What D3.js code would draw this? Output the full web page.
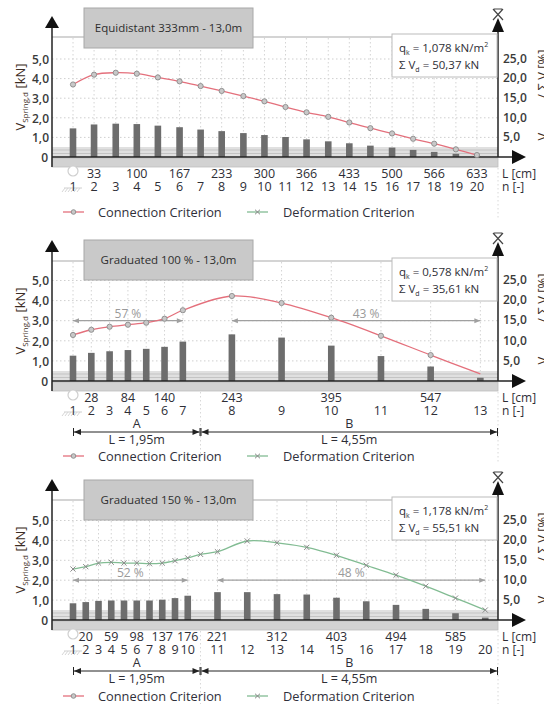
<!DOCTYPE html>
<html>
<head>
<meta charset="utf-8">
<script src="https://cdn.jsdelivr.net/npm/d3@7"></script>
<style>
body { margin: 0; background: #fff; }
text { font-family: "Open Sans", sans-serif; fill: #2e2e36; }
</style>
</head>
<body>
<div class="chart"></div>
<script>
// ---- panel 1 : equidistant 333mm
var p1Title = `Equidistant 333mm - 13,0m`;
var p1Qk = `1,078`, p1Sum = `50,37`;
var p1L = [0, 33, 67, 100, 133, 167, 200, 233, 267, 300, 333, 366, 400, 433, 466, 500, 533, 566, 600, 633];
var p1Conn = [3.70, 4.20, 4.30, 4.25, 4.06, 3.86, 3.62, 3.37, 3.11, 2.84, 2.55, 2.28, 2.05, 1.76, 1.47, 1.20, 0.93, 0.68, 0.39, 0.10];
var p1Share = [7.3, 8.3, 8.5, 8.4, 8.0, 7.6, 7.0, 6.6, 6.1, 5.6, 5.1, 4.5, 4.0, 3.5, 2.9, 2.4, 1.8, 1.3, 0.8, 0.2];
var p1TickNodes = [2, 4, 6, 8, 10, 12, 14, 16, 18, 20];
var p1TickText = [`33`, `100`, `167`, `233`, `300`, `366`, `433`, `500`, `566`, `633`];

// ---- panel 2 : graduated 100 %
var p2Title = `Graduated 100 % - 13,0m`;
var p2Qk = `0,578`, p2Sum = `35,61`;
var p2L = [0, 28, 56, 84, 112, 140, 168, 243, 319, 395, 471, 547, 623];
var p2Conn = [2.29, 2.55, 2.70, 2.80, 2.90, 3.10, 3.52, 4.23, 3.88, 3.15, 2.25, 1.29, 0.35];
var p2Share = [6.3, 7.0, 7.4, 7.7, 8.0, 8.5, 9.8, 11.6, 10.8, 8.8, 6.2, 3.6, 0.8];
var p2TickNodes = [2, 4, 6, 8, 10, 12];
var p2TickText = [`28`, `84`, `140`, `243`, `395`, `547`];
var p2SecNames = [`A`, `B`];
var p2SecBounds = [0, 195, 650];
var p2SecLen = [`L = 1,95m`, `L = 4,55m`];
var p2SecPct = [`57 %`, `43 %`];
var p2SecNodes = [[1, 7], [8, 13]];
var p2PctLevel = 3.0;

// ---- panel 3 : graduated 150 %
var p3Title = `Graduated 150 % - 13,0m`;
var p3Qk = `1,178`, p3Sum = `55,51`;
var p3L = [0, 19.5, 39, 58.5, 78, 97.5, 117, 136.5, 156, 175.5, 221, 266.5, 312, 357.5, 403, 448.5, 494, 539.5, 585, 630.5];
var p3DefL = [0, 19.5, 39, 58.5, 78, 97.5, 117, 136.5, 156, 175.5, 195, 221, 266.5, 312, 357.5, 403, 448.5, 494, 539.5, 585, 630.5];
var p3Def = [2.56, 2.68, 2.86, 2.90, 2.86, 2.86, 2.83, 2.86, 2.98, 3.12, 3.30, 3.43, 3.97, 3.88, 3.65, 3.25, 2.75, 2.25, 1.70, 1.10, 0.50];
var p3Share = [4.2, 4.5, 4.8, 4.9, 4.9, 4.9, 4.9, 5.1, 5.5, 6.1, 7.0, 7.0, 6.5, 6.4, 5.6, 4.7, 3.8, 2.8, 1.7, 0.6];
var p3TickNodes = [2, 4, 6, 8, 10, 11, 13, 15, 17, 19];
var p3TickText = [`20`, `59`, `98`, `137`, `176`, `221`, `312`, `403`, `494`, `585`];
var p3SecNames = [`A`, `B`];
var p3SecBounds = [0, 195, 650];
var p3SecLen = [`L = 1,95m`, `L = 4,55m`];
var p3SecPct = [`52 %`, `48 %`];
var p3SecNodes = [[1, 10], [11, 20]];
var p3PctLevel = 2.0;

var kNTicks = [1, 2, 3, 4, 5];
var pctTicks = [5, 10, 15, 20, 25];

var connColor = `#e4707c`;
var defColor = `#82bc93`;

var svg = d3.select(`.chart`)
    .append(`svg`)
    .attr(`width`, 544)
    .attr(`height`, 704);

var axisX0 = 52, axisX1 = 498, nodeX0 = 73;

function fmt(v) { return v.toFixed(1).replace(`.`, `,`); }

function drawPanel(p) {
    var g = svg.append(`g`);
    var y0 = p.y0;
    var xScale = d3.scaleLinear().domain([0, p.lMax]).range([nodeX0, axisX1]);
    var yScale = d3.scaleLinear().domain([0, 5]).range([y0, y0 - 5 * p.k]);
    var pScale = d3.scaleLinear().domain([0, 25]).range([y0, y0 - 5 * p.k]);

    // top border line
    g.append(`line`).attr(`x1`, axisX0).attr(`x2`, axisX1)
        .attr(`y1`, y0 - 120).attr(`y2`, y0 - 120)
        .style(`stroke`, `#d4d4d4`).style(`stroke-width`, 2);

    // grid
    g.selectAll(`.hgrid`).data(kNTicks).enter().append(`line`)
        .attr(`x1`, axisX0).attr(`x2`, axisX1)
        .attr(`y1`, d => yScale(d)).attr(`y2`, d => yScale(d))
        .style(`stroke`, `#cfcfcf`).style(`stroke-dasharray`, `1.5,2.5`);
    g.selectAll(`.vgrid`).data(p.L).enter().append(`line`)
        .attr(`x1`, d => xScale(d)).attr(`x2`, d => xScale(d))
        .attr(`y1`, y0 - 119).attr(`y2`, y0 - 10)
        .style(`stroke`, `#d4d4d4`).style(`stroke-dasharray`, `1.5,2.5`);

    // dotted lines below the axis
    var below = p.secBounds ? p.secBounds.slice(1) : [p.lMax];
    g.selectAll(`.bgrid`).data(below).enter().append(`line`)
        .attr(`x1`, d => xScale(d)).attr(`x2`, d => xScale(d))
        .attr(`y1`, y0 + 11).attr(`y2`, p.legendY + 8)
        .style(`stroke`, `#d8d8d8`).style(`stroke-dasharray`, `1.5,2.5`);

    // ground band
    g.append(`rect`).attr(`x`, axisX0).attr(`y`, y0 - 10).attr(`width`, axisX1 - axisX0).attr(`height`, 10)
        .style(`fill`, `#e0e0e0`);
    [y0 - 7, y0 - 3.5].forEach(yy => g.append(`line`).attr(`x1`, axisX0).attr(`x2`, axisX1)
        .attr(`y1`, yy).attr(`y2`, yy).style(`stroke`, `#c4c4c4`));
    g.append(`rect`).attr(`x`, axisX0).attr(`y`, y0 + 1).attr(`width`, axisX1 - axisX0).attr(`height`, 9)
        .style(`fill`, `#d2d2d2`).style(`stroke`, `#bdbdbd`).style(`stroke-width`, 0.8);

    // bars (share of sum, right scale)
    g.selectAll(`.bar`).data(p.share).enter().append(`rect`)
        .attr(`x`, (d, i) => xScale(p.L[i]) - 3.3)
        .attr(`y`, d => pScale(d))
        .attr(`width`, 6.6)
        .attr(`height`, d => y0 - pScale(d))
        .style(`fill`, `#6d6d6d`);

    // baseline
    g.append(`line`).attr(`x1`, axisX0).attr(`x2`, 514).attr(`y1`, y0).attr(`y2`, y0)
        .style(`stroke`, `#222`).style(`stroke-width`, 1.5);
    g.append(`path`).attr(`d`, `M526,${y0} L512,${y0 - 7} L512,${y0 + 7} Z`).style(`fill`, `#111`);

    // left axis
    g.append(`line`).attr(`x1`, axisX0).attr(`x2`, axisX0).attr(`y1`, y0 + 10).attr(`y2`, y0 - 130)
        .style(`stroke`, `#222`).style(`stroke-width`, 1.5);
    g.append(`path`).attr(`d`, `M${axisX0},${y0 - 141} L${axisX0 - 7},${y0 - 129} L${axisX0 + 7},${y0 - 129} Z`).style(`fill`, `#111`);

    // right axis
    g.append(`line`).attr(`x1`, axisX1).attr(`x2`, axisX1).attr(`y1`, y0).attr(`y2`, y0 - 126)
        .style(`stroke`, `#222`).style(`stroke-width`, 1.5);
    g.append(`path`).attr(`d`, `M${axisX1},${y0 - 139} L${axisX1 - 6},${y0 - 125} L${axisX1 + 6},${y0 - 125} Z`).style(`fill`, `#111`);
    g.append(`path`)
        .attr(`d`, `M${axisX1 - 5},${y0 - 148} L${axisX1 + 5},${y0 - 137} M${axisX1 + 5},${y0 - 148} L${axisX1 - 5},${y0 - 137} M${axisX1 - 4},${y0 - 148} L${axisX1 + 4},${y0 - 148}`)
        .style(`stroke`, `#444`).style(`stroke-width`, 1.2).style(`fill`, `none`);

    // left ticks
    var leftAxis = d3.axisLeft(yScale).tickValues([0].concat(kNTicks)).tickSize(0).tickPadding(0)
        .tickFormat(d => d === 0 ? `0` : fmt(d));
    var la = g.append(`g`).attr(`transform`, `translate(49,0)`).call(leftAxis);
    la.select(`.domain`).remove();
    la.selectAll(`text`).style(`font-family`, `"Open Sans", sans-serif`).style(`font-size`, `12px`).style(`font-weight`, 600).style(`fill`, `#3a3a3a`)
        .attr(`dy`, `0.35em`);
    la.selectAll(`.tick`).filter(d => d === 0).select(`text`).attr(`x`, -1);

    // right ticks
    var rightAxis = d3.axisRight(pScale).tickValues(pctTicks).tickSize(0).tickPadding(0).tickFormat(fmt);
    var ra = g.append(`g`).attr(`transform`, `translate(503,-1)`).call(rightAxis);
    ra.select(`.domain`).remove();
    ra.selectAll(`text`).style(`font-family`, `"Open Sans", sans-serif`).style(`font-size`, `12px`).style(`font-weight`, 600).style(`fill`, `#3a3a3a`)
        .attr(`dy`, `0.35em`);

    // axis titles
    var lt = g.append(`text`).attr(`transform`, `translate(25,${y0 - 60}) rotate(-90)`)
        .style(`text-anchor`, `middle`).style(`font-size`, `13px`).style(`fill`, `#3b2c24`);
    lt.append(`tspan`).text(`V`);
    lt.append(`tspan`).attr(`dy`, 3).style(`font-size`, `8px`).style(`fill`, `#3b2c24`).text(`Spring,d`);
    lt.append(`tspan`).attr(`dy`, -3).text(` [kN]`);
    var rt = g.append(`text`).attr(`transform`, `translate(547,${y0 - 62}) rotate(-90)`)
        .style(`text-anchor`, `middle`).style(`font-size`, `13px`).style(`fill`, `#3b2c24`);
    rt.append(`tspan`).text(`V`);
    rt.append(`tspan`).attr(`dy`, 3).style(`font-size`, `8px`).style(`fill`, `#3b2c24`).text(`Spring,d`);
    rt.append(`tspan`).attr(`dy`, -3).text(` / Σ V [%]`);

    // title box
    g.append(`rect`).attr(`x`, 84).attr(`y`, p.titleTop).attr(`width`, 169).attr(`height`, 40)
        .style(`fill`, `#c9c9c9`).style(`stroke`, `#a8a8a8`);
    g.append(`text`).attr(`x`, 168.5).attr(`y`, p.titleTop + 24)
        .style(`text-anchor`, `middle`).style(`font-size`, `11.5px`).style(`fill`, `#2e2e2e`).text(p.title);

    // qk box
    g.append(`rect`).attr(`x`, 392).attr(`y`, y0 - 123).attr(`width`, 105).attr(`height`, 43)
        .style(`fill`, `#fff`).style(`stroke`, `#bcbcbc`);
    var q1 = g.append(`text`).attr(`x`, 399).attr(`y`, y0 - 105).style(`font-size`, `11.5px`);
    q1.append(`tspan`).text(`q`);
    q1.append(`tspan`).attr(`dy`, 3).style(`font-size`, `7px`).text(`k`);
    q1.append(`tspan`).attr(`dy`, -3).text(` = ${p.qk} kN/m`);
    q1.append(`tspan`).attr(`dy`, -5).style(`font-size`, `7px`).text(`2`);
    var q2 = g.append(`text`).attr(`x`, 399).attr(`y`, y0 - 88).style(`font-size`, `11.5px`);
    q2.append(`tspan`).text(`Σ V`);
    q2.append(`tspan`).attr(`dy`, 3).style(`font-size`, `7px`).text(`d`);
    q2.append(`tspan`).attr(`dy`, -3).text(` = ${p.sum} kN`);

    // percentage span arrows
    if (p.secPct) {
        var py = yScale(p.pctLevel);
        p.secPct.forEach((t, i) => {
            var xa = xScale(p.L[p.secNodes[i][0] - 1]);
            var xb = xScale(p.L[p.secNodes[i][1] - 1]);
            g.append(`line`).attr(`x1`, xa).attr(`x2`, xb).attr(`y1`, py).attr(`y2`, py)
                .style(`stroke`, `#a0a0a0`).style(`stroke-width`, 1.2);
            g.append(`path`).attr(`d`, `M${xa},${py} l6,-2.5 l0,5 Z M${xb},${py} l-6,-2.5 l0,5 Z`).style(`fill`, `#a0a0a0`);
            g.append(`text`).attr(`x`, (xa + xb) / 2 + p.pctShift[i]).attr(`y`, py - 3)
                .style(`text-anchor`, `middle`).style(`font-size`, `12px`).style(`fill`, `#9a9a9a`).text(t);
        });
    }

    // lines
    var line = d3.line().curve(d3.curveCatmullRom.alpha(0.5))
        .x(d => xScale(d[0])).y(d => yScale(d[1]));
    if (p.conn) {
        var cd = p.L.map((l, i) => [l, p.conn[i]]);
        g.append(`path`).datum(cd).attr(`d`, line)
            .style(`fill`, `none`).style(`stroke`, connColor).style(`stroke-width`, 1.3);
        g.selectAll(`.cm`).data(cd.slice(0, p.connMarks)).enter().append(`circle`)
            .attr(`cx`, d => xScale(d[0])).attr(`cy`, d => yScale(d[1])).attr(`r`, 2.6)
            .style(`fill`, `#c8c8c8`).style(`stroke`, `#8a8a8a`).style(`stroke-width`, 0.9);
    }
    if (p.def) {
        var dd = p.defL.map((l, i) => [l, p.def[i]]);
        g.append(`path`).datum(dd).attr(`d`, line)
            .style(`fill`, `none`).style(`stroke`, defColor).style(`stroke-width`, 1.3);
        g.selectAll(`.dm`).data(dd).enter().append(`path`)
            .attr(`d`, d => { var x = xScale(d[0]), y = yScale(d[1]); return `M${x - 2.6},${y - 2.6} L${x + 2.6},${y + 2.6} M${x - 2.6},${y + 2.6} L${x + 2.6},${y - 2.6}`; })
            .style(`stroke`, `#8a8a8a`).style(`stroke-width`, 1);
    }

    // support symbol
    g.append(`circle`).attr(`cx`, nodeX0).attr(`cy`, y0 + 14).attr(`r`, 5)
        .style(`fill`, `#fff`).style(`stroke`, `#cfcfcf`).style(`stroke-width`, 1.2);
    g.append(`line`).attr(`x1`, nodeX0 - 9).attr(`x2`, nodeX0 + 9).attr(`y1`, y0 + 31).attr(`y2`, y0 + 31)
        .style(`stroke`, `#cfcfcf`);
    d3.range(6).forEach(i => g.append(`line`)
        .attr(`x1`, nodeX0 - 8 + i * 3).attr(`x2`, nodeX0 - 11 + i * 3)
        .attr(`y1`, y0 + 31).attr(`y2`, y0 + 35).style(`stroke`, `#d6d6d6`));

    // L and n labels
    g.selectAll(`.lt`).data(p.tickNodes).enter().append(`text`)
        .attr(`x`, d => xScale(p.L[d - 1])).attr(`y`, y0 + 21)
        .style(`text-anchor`, `middle`).style(`font-size`, `12.5px`)
        .text((d, i) => p.tickText[i]);
    g.selectAll(`.nt`).data(p.L).enter().append(`text`)
        .attr(`x`, d => xScale(d)).attr(`y`, y0 + 34)
        .style(`text-anchor`, `middle`).style(`font-size`, `12.5px`)
        .text((d, i) => i + 1);
    g.append(`text`).attr(`x`, 502).attr(`y`, y0 + 21).style(`font-size`, `12px`).text(`L [cm]`);
    g.append(`text`).attr(`x`, 502).attr(`y`, y0 + 34).style(`font-size`, `12px`).text(`n [-]`);

    // sections
    if (p.secNames) {
        var dy = y0 + 51;
        p.secNames.forEach((nm, i) => {
            var xa = xScale(p.secBounds[i]), xb = xScale(p.secBounds[i + 1]);
            g.append(`text`).attr(`x`, (xa + xb) / 2).attr(`y`, dy - 4)
                .style(`text-anchor`, `middle`).style(`font-size`, `12.5px`).text(nm);
            g.append(`line`).attr(`x1`, xa + 1).attr(`x2`, xb - 1).attr(`y1`, dy).attr(`y2`, dy)
                .style(`stroke`, `#222`).style(`stroke-width`, 1);
            g.append(`path`).attr(`d`, `M${xa + 1},${dy} l7,-3 l0,6 Z M${xb - 1},${dy} l-7,-3 l0,6 Z`).style(`fill`, `#222`);
            [xa + 0.5, xb - 0.5].forEach(xx => g.append(`line`).attr(`x1`, xx).attr(`x2`, xx)
                .attr(`y1`, dy - 4).attr(`y2`, dy + 4).style(`stroke`, `#222`));
            g.append(`text`).attr(`x`, (xa + xb) / 2).attr(`y`, dy + 12)
                .style(`text-anchor`, `middle`).style(`font-size`, `12.5px`).text(p.secLen[i]);
        });
    }

    // legend
    var ly = p.legendY;
    g.append(`line`).attr(`x1`, 63).attr(`x2`, 84).attr(`y1`, ly).attr(`y2`, ly)
        .style(`stroke`, connColor).style(`stroke-width`, 1.3);
    g.append(`circle`).attr(`cx`, 73.5).attr(`cy`, ly).attr(`r`, 2.3)
        .style(`fill`, `#c8c8c8`).style(`stroke`, `#8a8a8a`).style(`stroke-width`, 0.9);
    g.append(`text`).attr(`x`, 98).attr(`y`, ly + 4.5).style(`font-size`, `12.8px`).style(`fill`, `#2f2f3a`).text(`Connection Criterion`);
    g.append(`line`).attr(`x1`, 247).attr(`x2`, 268).attr(`y1`, ly).attr(`y2`, ly)
        .style(`stroke`, defColor).style(`stroke-width`, 1.3);
    g.append(`path`).attr(`d`, `M255,${ly - 2.3} L260,${ly + 2.3} M255,${ly + 2.3} L260,${ly - 2.3}`)
        .style(`stroke`, `#8a8a8a`).style(`stroke-width`, 1);
    g.append(`text`).attr(`x`, 283).attr(`y`, ly + 4.5).style(`font-size`, `12.8px`).style(`fill`, `#2f2f3a`).text(`Deformation Criterion`);
}

drawPanel({
    y0: 157, k: 19.6, titleTop: 8, lMax: 666, legendY: 212,
    title: p1Title, qk: p1Qk, sum: p1Sum,
    L: p1L, conn: p1Conn, connMarks: 20, share: p1Share,
    tickNodes: p1TickNodes, tickText: p1TickText
});
drawPanel({
    y0: 381, k: 20.1, titleTop: 240, lMax: 650, legendY: 456,
    title: p2Title, qk: p2Qk, sum: p2Sum,
    L: p2L, conn: p2Conn, connMarks: 12, share: p2Share,
    tickNodes: p2TickNodes, tickText: p2TickText,
    secNames: p2SecNames, secBounds: p2SecBounds, secLen: p2SecLen,
    secPct: p2SecPct, secNodes: p2SecNodes, pctLevel: p2PctLevel, pctShift: [0, 10]
});
drawPanel({
    y0: 620, k: 19.9, titleTop: 480, lMax: 650, legendY: 696,
    title: p3Title, qk: p3Qk, sum: p3Sum,
    L: p3L, defL: p3DefL, def: p3Def, share: p3Share,
    tickNodes: p3TickNodes, tickText: p3TickText,
    secNames: p3SecNames, secBounds: p3SecBounds, secLen: p3SecLen,
    secPct: p3SecPct, secNodes: p3SecNodes, pctLevel: p3PctLevel, pctShift: [0, 0]
});
</script>
</body>
</html>
